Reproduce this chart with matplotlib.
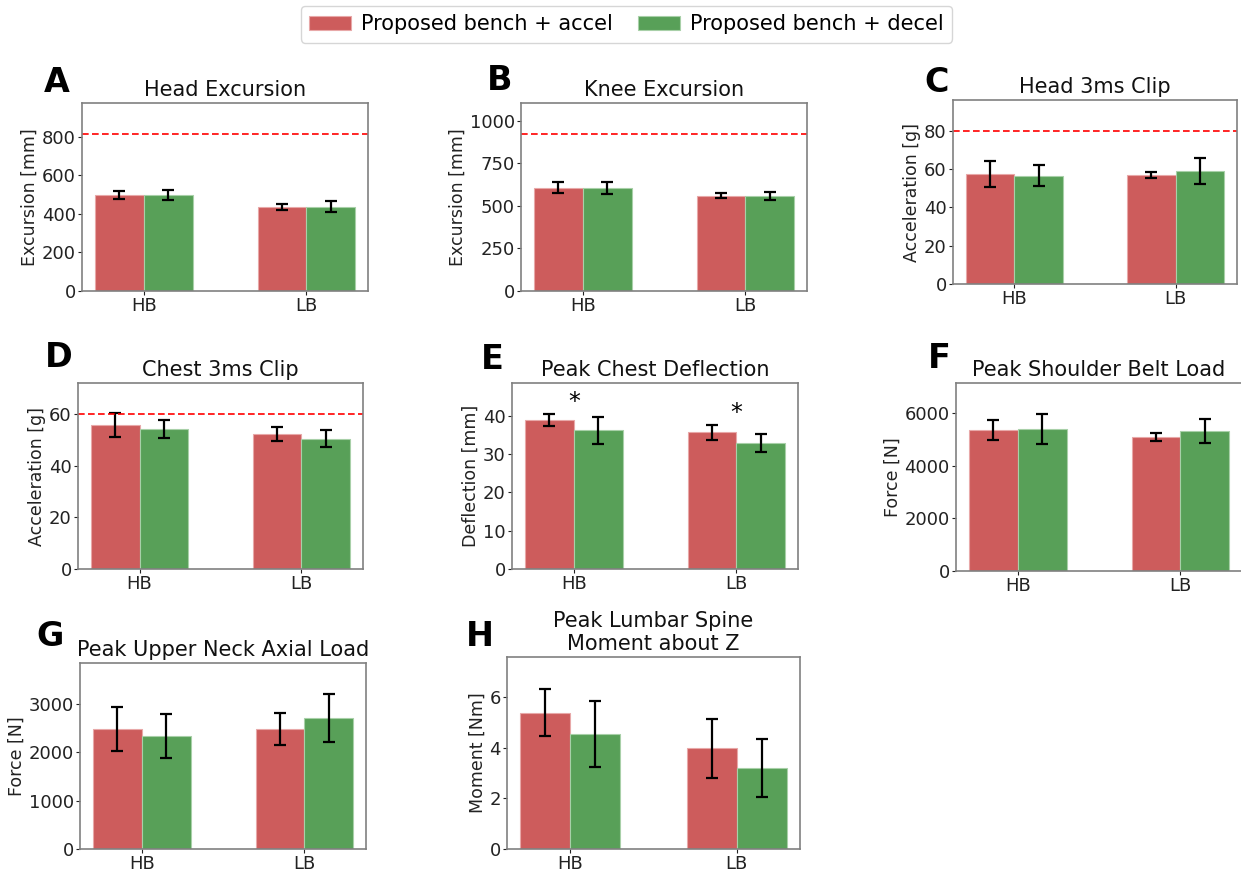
import matplotlib
matplotlib.use("Agg")
import matplotlib.pyplot as plt
from matplotlib.ticker import MultipleLocator

# ---------------------------------------------------------------
# data (mean, sd)
# ---------------------------------------------------------------
categories = ['HB', 'LB']
series_labels = ['Proposed bench + accel', 'Proposed bench + decel']
panel_letters = ['A', 'B', 'C', 'D', 'E', 'F', 'G', 'H']
titles = ['Head Excursion', 'Knee Excursion', 'Head 3ms Clip', 'Chest 3ms Clip',
          'Peak Chest Deflection', 'Peak Shoulder Belt Load',
          'Peak Upper Neck Axial Load', 'Peak Lumbar Spine\nMoment about Z']
ylabels = ['Excursion [mm]', 'Excursion [mm]', 'Acceleration [g]', 'Acceleration [g]',
           'Deflection [mm]', 'Force [N]', 'Force [N]', 'Moment [Nm]']
thresholds = [812, 919, 80, 60, None, None, None, None]
tick_steps = [200, 250, 20, 20, 10, 2000, 1000, 2]

accel_mean = [[497, 436], [605, 558], [57.6, 57.0], [55.8, 52.4],
              [38.9, 35.6], [5360, 5100], [2480, 2480], [5.40, 3.98]]
accel_sd = [[21, 17], [32, 14], [6.8, 1.5], [4.7, 2.7],
            [1.5, 2.0], [390, 160], [455, 338], [0.93, 1.16]]
decel_mean = [[497, 436], [603, 558], [56.4, 58.9], [54.2, 50.5],
              [36.1, 32.9], [5395, 5328], [2335, 2710], [4.55, 3.21]]
decel_sd = [[26, 28], [34, 24], [5.5, 6.7], [3.5, 3.3],
            [3.6, 2.3], [568, 458], [455, 497], [1.31, 1.16]]
# significant difference markers (panel E)
significant = [[False, False]] * 4 + [[True, True]] + [[False, False]] * 3

RED = '#cd5c5c'
GREEN = '#58a058'

W, H = 1241, 876
# axes boxes in pixels: left, right, top, bottom
boxes = [(82, 368, 103, 291), (521, 807, 103, 291), (953, 1237, 100, 284),
         (78, 363, 383, 569), (512, 798, 383, 569), (956, 1242, 383, 571),
         (80, 366, 663, 849), (507, 800, 657, 849)]
# panel letter anchor (left, baseline) in pixels
letter_pos = [(44, 92), (487, 90), (924, 92), (45, 367), (481, 369),
              (928, 368), (36, 646), (466, 646)]

fig = plt.figure(figsize=(W / 100, H / 100), dpi=100)

width = 0.3
x = list(range(len(categories)))

for i in range(8):
    l, r, t, b = boxes[i]
    ax = fig.add_axes([l / W, 1 - b / H, (r - l) / W, (b - t) / H])

    bars_a = ax.bar([xi - width / 2 for xi in x], accel_mean[i], width,
                    yerr=accel_sd[i], color=RED, edgecolor='#e8a8a8', linewidth=0.8,
                    capsize=4, error_kw=dict(elinewidth=1.6, capthick=1.6, ecolor='black'),
                    label=series_labels[0])
    bars_d = ax.bar([xi + width / 2 for xi in x], decel_mean[i], width,
                    yerr=decel_sd[i], color=GREEN, edgecolor='#a8d0a8', linewidth=0.8,
                    capsize=4, error_kw=dict(elinewidth=1.6, capthick=1.6, ecolor='black'),
                    label=series_labels[1])

    tops = [max(accel_mean[i][k] + accel_sd[i][k], decel_mean[i][k] + decel_sd[i][k])
            for k in range(len(categories))]
    if thresholds[i] is not None:
        ax.axhline(thresholds[i], color='red', linestyle='--', linewidth=1.2, dashes=(4, 2))
        ymax = 1.2 * thresholds[i]
    else:
        ymax = 1.2 * max(tops)
    ax.set_ylim(0, ymax)

    for k in range(len(categories)):
        if significant[i][k]:
            ax.text(x[k], tops[k] + 1.2, '*', ha='center', va='baseline', fontsize=17)

    ax.set_xticks(x)
    ax.set_xticklabels(categories)
    ax.yaxis.set_major_locator(MultipleLocator(tick_steps[i]))
    ax.tick_params(labelsize=13, colors='#222222', length=3, pad=1.5)
    ax.set_title(titles[i], fontsize=15, color='#111111', pad=5)
    ax.set_ylabel(ylabels[i], fontsize=12.5, color='#222222', labelpad=2)
    for sp in ax.spines.values():
        sp.set_color('#808080')
        sp.set_linewidth(1.2)

    lx, ly = letter_pos[i]
    fig.text(lx / W, 1 - ly / H, panel_letters[i], fontsize=24, fontweight='bold',
             va='baseline', ha='left')

    if i == 0:
        handles = [bars_a, bars_d]

fig.legend(handles, series_labels, loc='upper center', bbox_to_anchor=(0.505, 0.998),
           ncol=2, fontsize=15, frameon=True, handletextpad=0.5, columnspacing=1.2,
           borderaxespad=0.2)

fig.savefig('out.png', dpi=100)
